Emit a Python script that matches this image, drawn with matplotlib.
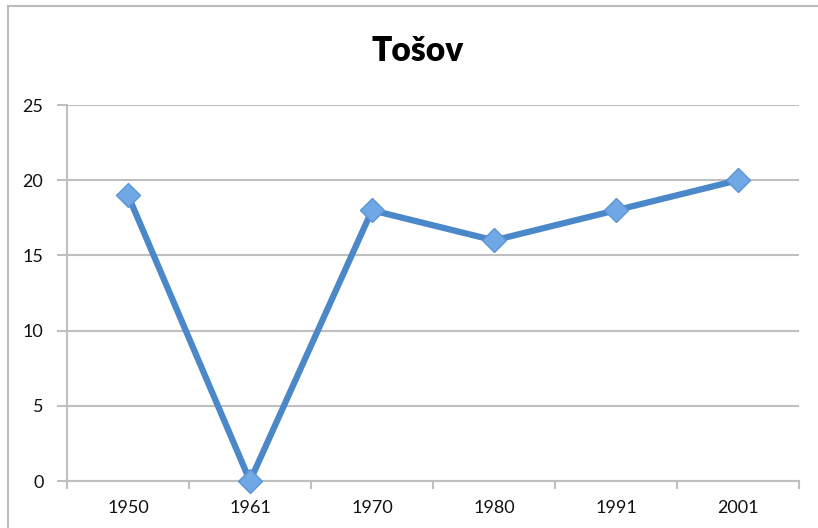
import matplotlib
matplotlib.use("Agg")
import matplotlib.pyplot as plt
from matplotlib.patches import Rectangle

years = ["1950", "1961", "1970", "1980", "1991", "2001"]
values = [19, 0, 18, 16, 18, 20]
yticks = [0, 5, 10, 15, 20, 25]
title = "Tošov"

plt.rcParams['font.family'] = ['Lato', 'DejaVu Sans']

W, H = 818, 528
fig = plt.figure(figsize=(W / 100, H / 100), dpi=100)

# outer chart frame (right and bottom edges fall outside the picture)
fig.patches.append(Rectangle((8 / W, -0.1), 1.2, (H - 6) / H + 0.1, transform=fig.transFigure,
                             fill=False, edgecolor="#BBBBBB", linewidth=1.5, zorder=0))

ax = fig.add_axes([67 / W, 1 - 481 / H, (799 - 67) / W, (481 - 105) / H])
x = list(range(len(years)))
ax.plot(x, values, color="#4A88CA", linewidth=4.5, solid_capstyle="round",
        marker="D", markersize=12.5, markerfacecolor="#6FA8E4",
        markeredgecolor="#5B95D6", markeredgewidth=1, zorder=3, clip_on=False)

ax.set_xlim(-0.5, len(years) - 0.5)
ax.set_ylim(0, 25)
ax.set_yticks(yticks)
ax.set_yticklabels([str(v) for v in yticks])
ax.set_xticks(x)
ax.set_xticklabels(years)
ax.set_xticks([i - 0.5 for i in range(len(years) + 1)], minor=True)

ax.grid(axis="y", color="#BFBFBF", linewidth=1.5, zorder=0)
for s in ["top", "right"]:
    ax.spines[s].set_visible(False)
for s in ["left", "bottom"]:
    ax.spines[s].set_color("#BFBFBF")
    ax.spines[s].set_linewidth(1.5)

ax.tick_params(axis="y", length=7, width=1.5, color="#BFBFBF", labelsize=13, pad=10,
               labelcolor="#111111")
ax.tick_params(axis="x", which="major", length=0, labelsize=13, pad=14, labelcolor="#111111")
ax.tick_params(axis="x", which="minor", length=6, width=1.5, color="#BFBFBF")

fig.text(418 / W, 1 - 51 / H, title, ha="center", va="center",
         fontsize=24, fontweight="heavy", color="black")

fig.savefig("out.png", dpi=100)
